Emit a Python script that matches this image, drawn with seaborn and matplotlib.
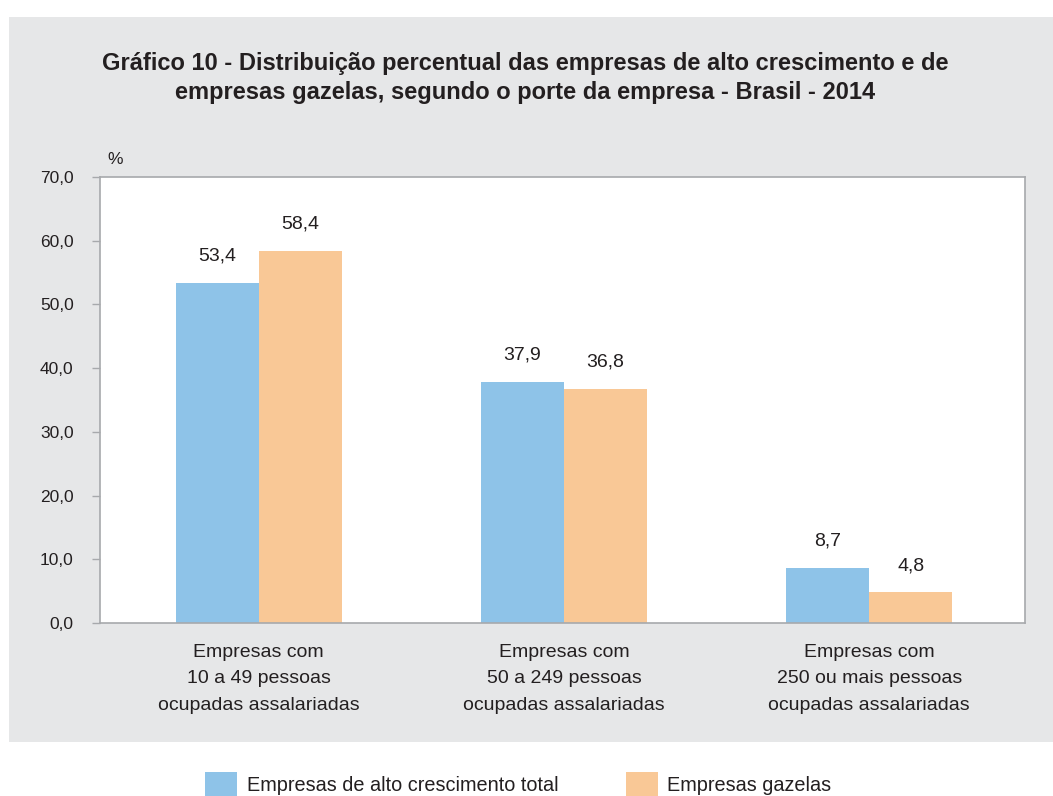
import matplotlib
matplotlib.use("Agg")
import matplotlib.pyplot as plt
import matplotlib.patches as mpatches
import seaborn as sns
import pandas as pd

categorias = [
    "Empresas com\n10 a 49 pessoas\nocupadas assalariadas",
    "Empresas com\n50 a 249 pessoas\nocupadas assalariadas",
    "Empresas com\n250 ou mais pessoas\nocupadas assalariadas",
]
series = ["Empresas de alto crescimento total", "Empresas gazelas"]
alto_crescimento = [53.4, 37.9, 8.7]
gazelas = [58.4, 36.8, 4.8]
yticks = [0, 10, 20, 30, 40, 50, 60, 70]

cores = ["#8ec3e8", "#f9c896"]
cinza_fundo = "#e6e7e8"
cinza_eixo = "#a7a9ac"
texto = "#231f20"

df = pd.DataFrame({
    "categoria": categorias * 2,
    "serie": [series[0]] * 3 + [series[1]] * 3,
    "valor": alto_crescimento + gazelas,
})

sns.set_style("white")
plt.rcParams["font.family"] = ["Liberation Sans", "DejaVu Sans"]

fig = plt.figure(figsize=(10.53, 7.96), dpi=100)
fig.patch.set_facecolor("white")

# grey panel behind the chart
W, H = 1053, 796
fig.patches.append(mpatches.Rectangle((9 / W, 1 - 742 / H), 1 - 9 / W, (742 - 17) / H,
                                      transform=fig.transFigure, facecolor=cinza_fundo,
                                      edgecolor="none", zorder=-5))

ax = fig.add_axes([100 / W, 1 - 623 / H, (1025 - 100) / W, (623 - 177) / H])
ax.set_zorder(2)
sns.barplot(data=df, x="categoria", y="valor", hue="serie", palette=cores,
            width=0.545, saturation=1, linewidth=0, ax=ax, legend=False)

ax.set_facecolor("white")
ax.set_ylim(0, 70)
ax.set_xlim(-0.52, 2.51)
ax.set_yticks(yticks)
ax.set_yticklabels([f"{v:.1f}".replace(".", ",") for v in yticks], fontsize=12.5, color=texto)
ax.tick_params(axis="y", length=6, width=1, color=cinza_eixo, pad=13, left=True)
ax.tick_params(axis="x", length=0, pad=15, labelsize=14, labelcolor=texto)
for lab in ax.get_xticklabels():
    lab.set_linespacing(1.72)
ax.set_xlabel("")
ax.set_ylabel("")
for s in ax.spines.values():
    s.set_color(cinza_eixo)
    s.set_linewidth(1.2)

for cont in ax.containers:
    labels = [f"{v:.1f}".replace(".", ",") for v in cont.datavalues]
    ax.bar_label(cont, labels=labels, padding=13, fontsize=14, color=texto)

fig.text(107 / W, 1 - 160 / H, "%", fontsize=12.5, color=texto, ha="left", va="center")

fig.text(525 / W, 1 - 78 / H,
         "Gráfico 10 - Distribuição percentual das empresas de alto crescimento e de\n"
         "empresas gazelas, segundo o porte da empresa - Brasil - 2014",
         ha="center", va="center", fontsize=17, fontweight="bold", color=texto,
         linespacing=1.3)

handles = [mpatches.Patch(facecolor=c, edgecolor="none", label=s) for c, s in zip(cores, series)]
fig.legend(handles=handles, loc="upper left", bbox_to_anchor=(187 / W, 1 - 754 / H),
           ncol=2, frameon=False, fontsize=14.3, handlelength=1.6, handleheight=1.6,
           handletextpad=0.5, columnspacing=3.4, labelcolor=texto)

fig.savefig("out.png", dpi=100)
